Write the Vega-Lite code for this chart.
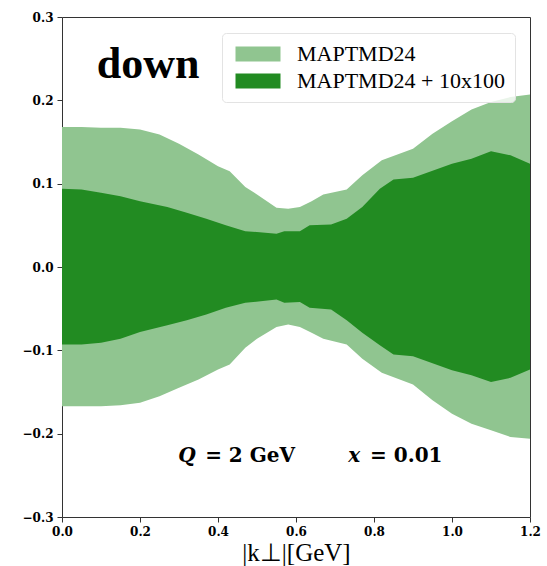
{
  "$schema": "https://vega.github.io/schema/vega-lite/v6.json",
  "width": 468,
  "height": 500,
  "autosize": {"type": "none"},
  "padding": {"left": 62, "top": 17, "right": 17, "bottom": 49},
  "background": "white",
  "config": {
    "view": {"stroke": "#333333", "strokeWidth": 1},
    "axis": {
      "grid": false,
      "domain": false,
      "labelFlush": false,
      "tickColor": "#333333",
      "tickSize": 5,
      "labelFont": "DejaVu Serif",
      "labelFontWeight": "bold",
      "labelFontSize": 12,
      "labelColor": "black",
      "labelPadding": 4,
      "titleFont": "Liberation Serif",
      "titleFontWeight": "normal",
      "titleFontSize": 25,
      "titleColor": "black",
      "titlePadding": 3
    },
    "legend": {
      "orient": "none",
      "legendX": 160,
      "legendY": 16,
      "direction": "vertical",
      "symbolType": "M-1,-1L5,-1L5,1L-1,1Z",
      "symbolSize": 225,
      "symbolStrokeWidth": 0,
      "symbolOpacity": 1,
      "labelFont": "Liberation Serif",
      "labelFontSize": 22,
      "labelColor": "black",
      "labelOffset": 43,
      "labelLimit": 400,
      "padding": 10,
      "rowPadding": 5,
      "strokeColor": "#e3e3e3",
      "cornerRadius": 4,
      "fillColor": "rgba(255,255,255,0.8)"
    }
  },
  "datasets": {
    "bands": [
      {"k": 0.00, "lo": -0.167, "hi": 0.168, "band": "MAPTMD24"},
      {"k": 0.05, "lo": -0.167, "hi": 0.168, "band": "MAPTMD24"},
      {"k": 0.10, "lo": -0.167, "hi": 0.167, "band": "MAPTMD24"},
      {"k": 0.15, "lo": -0.166, "hi": 0.167, "band": "MAPTMD24"},
      {"k": 0.20, "lo": -0.163, "hi": 0.165, "band": "MAPTMD24"},
      {"k": 0.25, "lo": -0.155, "hi": 0.159, "band": "MAPTMD24"},
      {"k": 0.30, "lo": -0.145, "hi": 0.148, "band": "MAPTMD24"},
      {"k": 0.35, "lo": -0.135, "hi": 0.135, "band": "MAPTMD24"},
      {"k": 0.40, "lo": -0.123, "hi": 0.121, "band": "MAPTMD24"},
      {"k": 0.43, "lo": -0.117, "hi": 0.115, "band": "MAPTMD24"},
      {"k": 0.47, "lo": -0.097, "hi": 0.096, "band": "MAPTMD24"},
      {"k": 0.50, "lo": -0.086, "hi": 0.087, "band": "MAPTMD24"},
      {"k": 0.55, "lo": -0.072, "hi": 0.071, "band": "MAPTMD24"},
      {"k": 0.58, "lo": -0.069, "hi": 0.070, "band": "MAPTMD24"},
      {"k": 0.61, "lo": -0.072, "hi": 0.072, "band": "MAPTMD24"},
      {"k": 0.64, "lo": -0.079, "hi": 0.079, "band": "MAPTMD24"},
      {"k": 0.67, "lo": -0.086, "hi": 0.087, "band": "MAPTMD24"},
      {"k": 0.73, "lo": -0.093, "hi": 0.093, "band": "MAPTMD24"},
      {"k": 0.77, "lo": -0.110, "hi": 0.110, "band": "MAPTMD24"},
      {"k": 0.82, "lo": -0.127, "hi": 0.128, "band": "MAPTMD24"},
      {"k": 0.90, "lo": -0.141, "hi": 0.142, "band": "MAPTMD24"},
      {"k": 0.95, "lo": -0.160, "hi": 0.160, "band": "MAPTMD24"},
      {"k": 1.00, "lo": -0.176, "hi": 0.175, "band": "MAPTMD24"},
      {"k": 1.05, "lo": -0.188, "hi": 0.189, "band": "MAPTMD24"},
      {"k": 1.10, "lo": -0.196, "hi": 0.198, "band": "MAPTMD24"},
      {"k": 1.15, "lo": -0.204, "hi": 0.204, "band": "MAPTMD24"},
      {"k": 1.20, "lo": -0.206, "hi": 0.207, "band": "MAPTMD24"},
      {"k": 0.00, "lo": -0.093, "hi": 0.094, "band": "MAPTMD24 + 10x100"},
      {"k": 0.05, "lo": -0.093, "hi": 0.093, "band": "MAPTMD24 + 10x100"},
      {"k": 0.10, "lo": -0.091, "hi": 0.089, "band": "MAPTMD24 + 10x100"},
      {"k": 0.15, "lo": -0.086, "hi": 0.085, "band": "MAPTMD24 + 10x100"},
      {"k": 0.20, "lo": -0.078, "hi": 0.079, "band": "MAPTMD24 + 10x100"},
      {"k": 0.27, "lo": -0.070, "hi": 0.072, "band": "MAPTMD24 + 10x100"},
      {"k": 0.32, "lo": -0.064, "hi": 0.065, "band": "MAPTMD24 + 10x100"},
      {"k": 0.37, "lo": -0.057, "hi": 0.058, "band": "MAPTMD24 + 10x100"},
      {"k": 0.42, "lo": -0.049, "hi": 0.050, "band": "MAPTMD24 + 10x100"},
      {"k": 0.47, "lo": -0.043, "hi": 0.043, "band": "MAPTMD24 + 10x100"},
      {"k": 0.55, "lo": -0.039, "hi": 0.040, "band": "MAPTMD24 + 10x100"},
      {"k": 0.57, "lo": -0.043, "hi": 0.043, "band": "MAPTMD24 + 10x100"},
      {"k": 0.61, "lo": -0.042, "hi": 0.043, "band": "MAPTMD24 + 10x100"},
      {"k": 0.635, "lo": -0.049, "hi": 0.050, "band": "MAPTMD24 + 10x100"},
      {"k": 0.69, "lo": -0.051, "hi": 0.051, "band": "MAPTMD24 + 10x100"},
      {"k": 0.73, "lo": -0.064, "hi": 0.058, "band": "MAPTMD24 + 10x100"},
      {"k": 0.77, "lo": -0.079, "hi": 0.072, "band": "MAPTMD24 + 10x100"},
      {"k": 0.815, "lo": -0.094, "hi": 0.094, "band": "MAPTMD24 + 10x100"},
      {"k": 0.85, "lo": -0.105, "hi": 0.105, "band": "MAPTMD24 + 10x100"},
      {"k": 0.90, "lo": -0.107, "hi": 0.107, "band": "MAPTMD24 + 10x100"},
      {"k": 1.00, "lo": -0.124, "hi": 0.124, "band": "MAPTMD24 + 10x100"},
      {"k": 1.05, "lo": -0.130, "hi": 0.130, "band": "MAPTMD24 + 10x100"},
      {"k": 1.10, "lo": -0.138, "hi": 0.139, "band": "MAPTMD24 + 10x100"},
      {"k": 1.15, "lo": -0.133, "hi": 0.134, "band": "MAPTMD24 + 10x100"},
      {"k": 1.20, "lo": -0.123, "hi": 0.124, "band": "MAPTMD24 + 10x100"}
    ],
    "labels": [
      {"k": 0.089, "v": 0.2265, "text": "down", "kind": "title"},
      {"k": 0.298, "v": -0.234, "text": "Q", "kind": "var"},
      {"k": 0.367, "v": -0.234, "text": "= 2 GeV", "kind": "val"},
      {"k": 0.734, "v": -0.234, "text": "x", "kind": "var"},
      {"k": 0.790, "v": -0.234, "text": "= 0.01", "kind": "val"}
    ]
  },
  "layer": [
    {
      "data": {"name": "bands"},
      "transform": [{"filter": "datum.band === 'MAPTMD24'"}],
      "mark": {"type": "area", "interpolate": "linear"},
      "encoding": {
        "x": {"field": "k", "type": "quantitative", "title": "|k⊥|[GeV]",
              "scale": {"domain": [0, 1.2], "nice": false},
              "axis": {"values": [0, 0.2, 0.4, 0.6, 0.8, 1.0, 1.2], "format": ".1f"}},
        "y": {"field": "lo", "type": "quantitative", "title": null,
              "scale": {"domain": [-0.3, 0.3], "nice": false},
              "axis": {"values": [-0.3, -0.2, -0.1, 0, 0.1, 0.2, 0.3], "format": ".1f"}},
        "y2": {"field": "hi"},
        "color": {"field": "band", "type": "nominal", "title": null,
                  "scale": {"domain": ["MAPTMD24", "MAPTMD24 + 10x100"], "range": ["#90c590", "#228b22"]}}
      }
    },
    {
      "data": {"name": "bands"},
      "transform": [{"filter": "datum.band === 'MAPTMD24 + 10x100'"}],
      "mark": {"type": "area", "interpolate": "linear"},
      "encoding": {
        "x": {"field": "k", "type": "quantitative", "title": "|k⊥|[GeV]"},
        "y": {"field": "lo", "type": "quantitative", "title": null},
        "y2": {"field": "hi"},
        "color": {"field": "band", "type": "nominal", "title": null}
      }
    },
    {
      "data": {"name": "labels"},
      "transform": [{"filter": "datum.kind === 'title'"}],
      "mark": {"type": "text", "align": "left", "baseline": "alphabetic", "font": "Liberation Serif", "fontWeight": "bold", "fontSize": 44, "color": "black"},
      "encoding": {
        "x": {"field": "k", "type": "quantitative", "title": "|k⊥|[GeV]"},
        "y": {"field": "v", "type": "quantitative", "title": null},
        "text": {"field": "text"}
      }
    },
    {
      "data": {"name": "labels"},
      "transform": [{"filter": "datum.kind === 'var'"}],
      "mark": {"type": "text", "align": "left", "baseline": "alphabetic", "font": "DejaVu Serif", "fontWeight": "bold", "fontStyle": "italic", "fontSize": 20, "color": "black"},
      "encoding": {
        "x": {"field": "k", "type": "quantitative", "title": "|k⊥|[GeV]"},
        "y": {"field": "v", "type": "quantitative", "title": null},
        "text": {"field": "text"}
      }
    },
    {
      "data": {"name": "labels"},
      "transform": [{"filter": "datum.kind === 'val'"}],
      "mark": {"type": "text", "align": "left", "baseline": "alphabetic", "font": "DejaVu Serif", "fontWeight": "bold", "fontSize": 20, "color": "black"},
      "encoding": {
        "x": {"field": "k", "type": "quantitative", "title": "|k⊥|[GeV]"},
        "y": {"field": "v", "type": "quantitative", "title": null},
        "text": {"field": "text"}
      }
    }
  ]
}
